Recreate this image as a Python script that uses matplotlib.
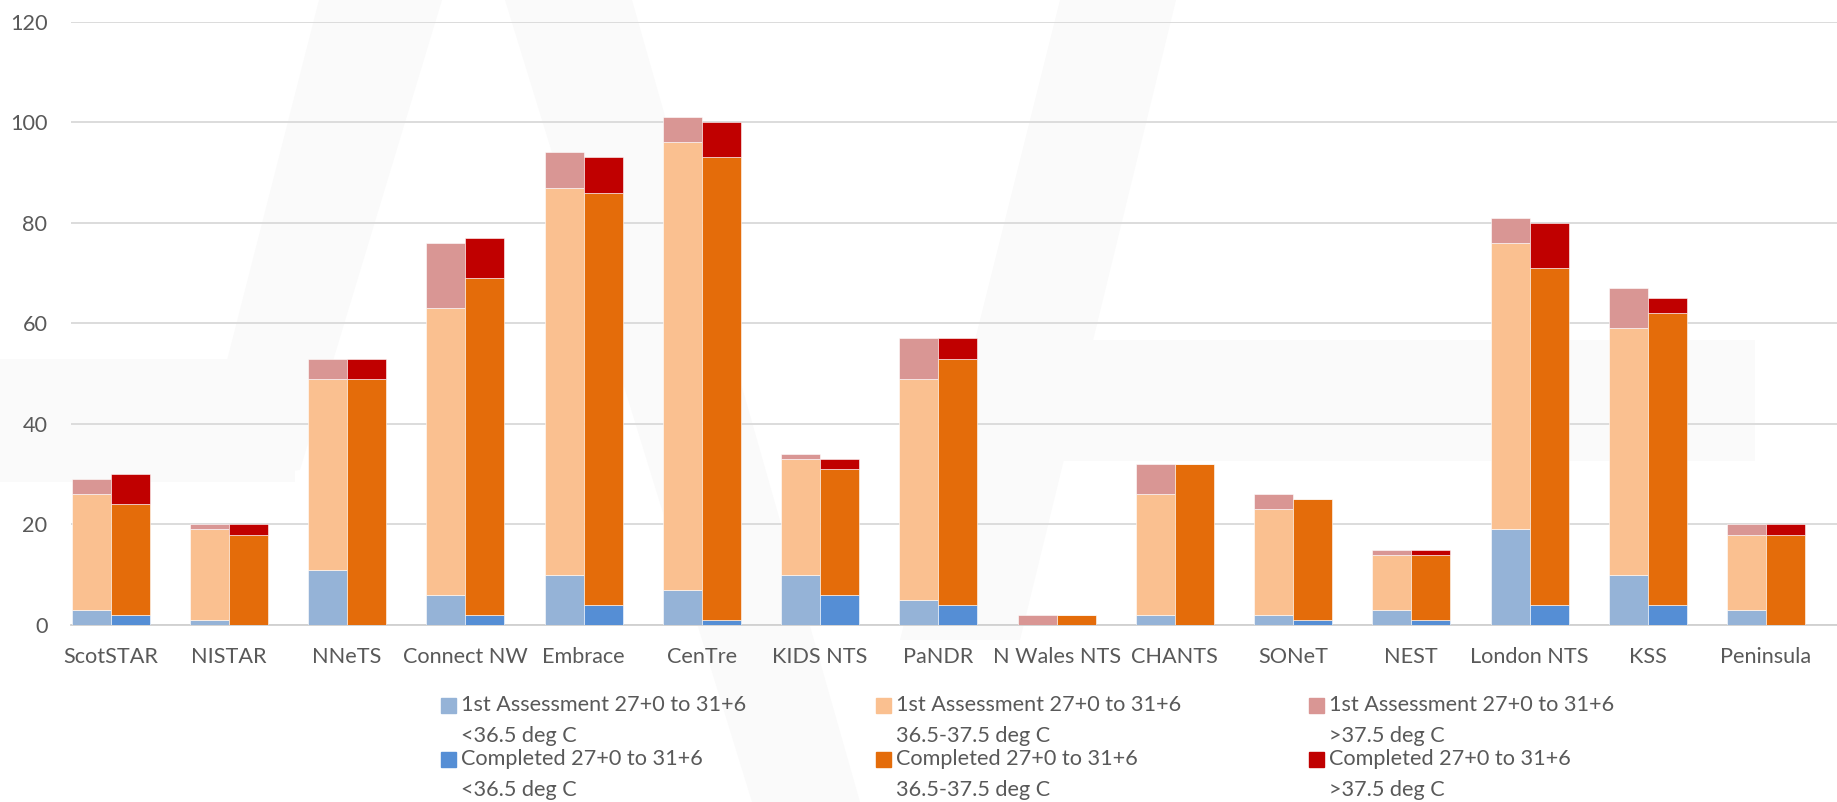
import matplotlib
matplotlib.use('Agg')
import matplotlib.pyplot as plt
import numpy as np
from matplotlib.patches import Rectangle, Polygon

# network / unit names along the x axis
categories = ['ScotSTAR', 'NISTAR', 'NNeTS', 'Connect NW', 'Embrace', 'CenTre',
              'KIDS NTS', 'PaNDR', 'N Wales NTS', 'CHANTS', 'SONeT', 'NEST',
              'London NTS', 'KSS', 'Peninsula']

# 1st assessment, by temperature band
first_low = [3, 1, 11, 6, 10, 7, 10, 5, 0, 2, 2, 3, 19, 10, 3]
first_mid = [23, 18, 38, 57, 77, 89, 23, 44, 0, 24, 21, 11, 57, 49, 15]
first_high = [3, 1, 4, 13, 7, 5, 1, 8, 2, 6, 3, 1, 5, 8, 2]

# completed, by temperature band
comp_low = [2, 0, 0, 2, 4, 1, 6, 4, 0, 0, 1, 1, 4, 4, 0]
comp_mid = [22, 18, 49, 67, 82, 92, 25, 49, 2, 32, 24, 13, 67, 58, 18]
comp_high = [6, 2, 4, 8, 7, 7, 2, 4, 0, 0, 0, 1, 9, 3, 2]

bands = ['<36.5 deg C', '36.5-37.5 deg C', '>37.5 deg C']
first_colors = ['#95B3D7', '#FAC090', '#D99694']
comp_colors = ['#558ED5', '#E46C0A', '#C00000']

TEXT = '#595959'
FONT = 'Lato'
FS = 15.6
W, H = 1837, 802

fig = plt.figure(figsize=(W / 100, H / 100), dpi=100)

# very faint watermark shapes behind the chart (pixel coords, y down)
bg = fig.add_axes([0, 0, 1, 1], zorder=0)
bg.set_xlim(0, W)
bg.set_ylim(H, 0)
bg.axis('off')
wm = '#FAFAFA'
bg.add_patch(Polygon([(319, 0), (442, 0), (300, 470), (196, 482)], color=wm, lw=0))
bg.add_patch(Rectangle((0, 359), 295, 123, color=wm, lw=0))
bg.add_patch(Polygon([(505, 0), (632, 0), (860, 802), (752, 802)], color=wm, lw=0))
bg.add_patch(Rectangle((990, 340), 765, 121, color=wm, lw=0))
bg.add_patch(Polygon([(1060, 0), (1176, 0), (1020, 640), (900, 640)], color=wm, lw=0))

ax = fig.add_axes([71 / W, 177 / H, 1 - 71 / W, (625 - 21.7) / H], zorder=1)

x = np.arange(len(categories))
w = 0.33


def stack(ax, xpos, series, colors):
    bottom = np.zeros(len(xpos))
    for vals, c in zip(series, colors):
        vals = np.array(vals, dtype=float)
        ax.bar(xpos, vals, w, bottom=bottom, color=c, edgecolor='white',
               linewidth=0.4, zorder=3)
        bottom += vals


stack(ax, x - w / 2, [first_low, first_mid, first_high], first_colors)
stack(ax, x + w / 2, [comp_low, comp_mid, comp_high], comp_colors)

ax.set_ylim(0, 120)
ax.set_xlim(-0.335, 14.6)
ax.set_yticks(range(0, 121, 20))
ax.set_xticks(x)
ax.set_xticklabels(categories)

ax.grid(axis='y', color='#D9D9D9', linewidth=1.3, zorder=0)
for s in ['top', 'right', 'left']:
    ax.spines[s].set_visible(False)
ax.spines['bottom'].set_color('#D0D0D0')
ax.spines['bottom'].set_linewidth(1.3)
ax.tick_params(axis='both', length=0, colors=TEXT, labelsize=FS)
ax.tick_params(axis='x', pad=16)
ax.tick_params(axis='y', pad=17)
for lab in ax.get_xticklabels() + ax.get_yticklabels():
    lab.set_fontfamily(FONT)
ax.set_facecolor('none')

# legend, three columns, two lines per entry
col_x = [441, 876, 1309]
row_y = [705, 759]
for j, band in enumerate(bands):
    for r, (prefix, colors) in enumerate([('1st Assessment 27+0 to 31+6', first_colors),
                                          ('Completed 27+0 to 31+6', comp_colors)]):
        px = col_x[j]
        py = row_y[r]
        fig.patches.append(Rectangle((px / W, (H - py - 7.5) / H), 15 / W, 15 / H,
                                     transform=fig.transFigure, color=colors[j]))
        fig.text((px + 20) / W, (H - py) / H, prefix, color=TEXT, fontsize=FS,
                 family=FONT, va='center', ha='left')
        fig.text((px + 20) / W, (H - py - 31) / H, band, color=TEXT, fontsize=FS,
                 family=FONT, va='center', ha='left')

fig.savefig('out.png', dpi=100)
